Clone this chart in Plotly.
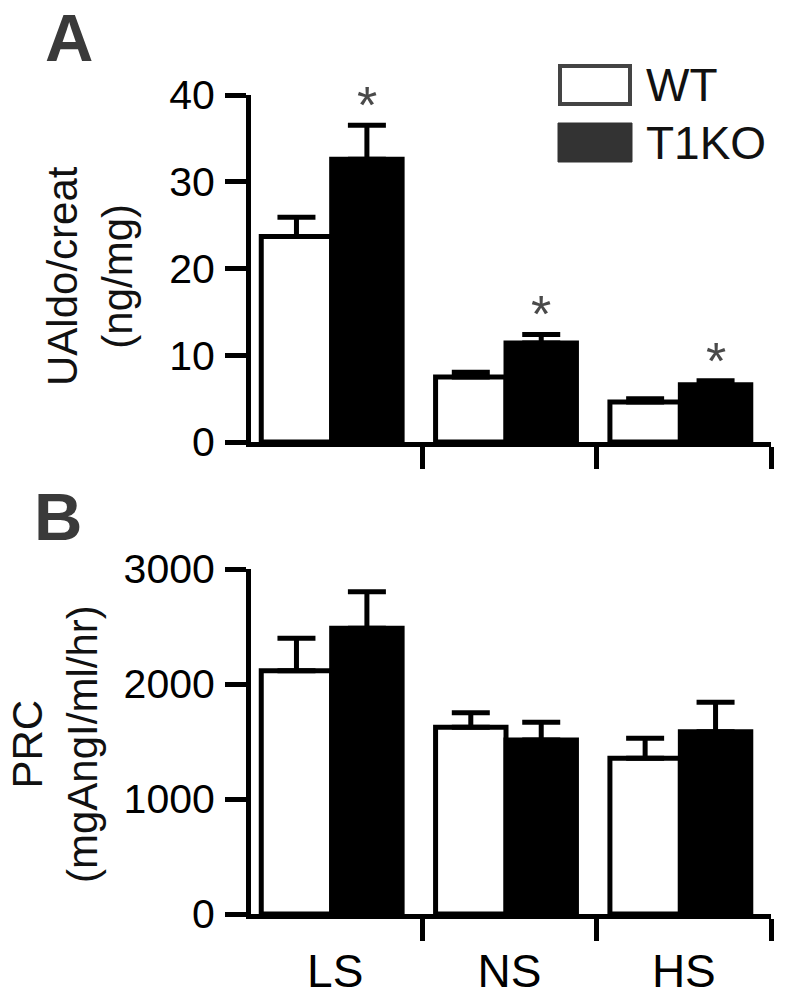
import plotly.graph_objects as go

# ---------------- data ----------------
categories = ["LS", "NS", "HS"]
groups = ["WT", "T1KO"]

aldo_wt = [23.7, 7.5, 4.6]
aldo_wt_sem = [2.2, 0.55, 0.4]
aldo_ko = [32.6, 11.4, 6.6]
aldo_ko_sem = [3.9, 1.0, 0.45]

prc_wt = [2116, 1623, 1354]
prc_wt_sem = [281, 127, 174]
prc_ko = [2484, 1513, 1585]
prc_ko_sem = [319, 154, 256]

aldo_ticks = [0, 10, 20, 30, 40]
prc_ticks = [0, 1000, 2000, 3000]
significant_a = [True, True, True]   # asterisks over T1KO bars in panel A

# ---------------- layout helpers ----------------
W, H = 800, 1008
FONT = "Liberation Sans, Arial, Helvetica, sans-serif"


def fx(p):
    return p / W


def fy(p):
    return 1 - p / H


idx = list(range(len(categories)))
BAR_W = 0.404
OFF_WT = -0.424
OFF_KO = -0.02

fig = go.Figure()


def add_pair(wt, wt_sem, ko, ko_sem, xa, ya):
    fig.add_trace(go.Bar(
        x=idx, y=wt, width=BAR_W, offset=OFF_WT, name=groups[0],
        xaxis=xa, yaxis=ya, showlegend=False,
        marker=dict(color="white", line=dict(color="black", width=5)),
        error_y=dict(type="data", symmetric=False, array=wt_sem,
                     arrayminus=[0] * len(wt), color="black",
                     thickness=5, width=19),
    ))
    fig.add_trace(go.Bar(
        x=idx, y=ko, width=BAR_W, offset=OFF_KO, name=groups[1],
        xaxis=xa, yaxis=ya, showlegend=False,
        marker=dict(color="black", line=dict(color="black", width=5)),
        error_y=dict(type="data", symmetric=False, array=ko_sem,
                     arrayminus=[0] * len(ko), color="black",
                     thickness=5, width=19),
    ))


add_pair(aldo_wt, aldo_wt_sem, aldo_ko, aldo_ko_sem, "x", "y")
add_pair(prc_wt, prc_wt_sem, prc_ko, prc_ko_sem, "x2", "y2")

# category span: 248 px (left boundary) .. 771 px, 3 categories
X_LEFT, X_RIGHT, X_AXIS = 248, 771, 251
unit = (X_RIGHT - X_LEFT) / 3
xdom = [fx(X_AXIS), fx(X_RIGHT)]
xrange_ = [-0.5 + (X_AXIS - X_LEFT) / unit, 2.5]
dom_a = [fy(442), fy(95)]
dom_b = [fy(914), fy(569)]

axis_common = dict(showgrid=False, zeroline=False, showline=True,
                   linecolor="black", linewidth=5, automargin=False)

xaxis_base = dict(
    axis_common, domain=xdom, range=xrange_, tickmode="array",
    tickvals=idx, ticktext=categories, ticks="",
    minor=dict(tickmode="array", tickvals=[0.5, 1.5, 2.5], ticks="outside",
               ticklen=22, tickwidth=5, tickcolor="black"),
    tickfont=dict(family=FONT, size=46, color="black"),
)

yaxis_base = dict(
    axis_common, ticks="outside", ticklen=21, tickwidth=5,
    tickcolor="black", tickmode="array",
    tickfont=dict(family=FONT, size=41, color="black"),
    ticklabelstandoff=2,
)

fig.update_layout(
    width=W, height=H,
    margin=dict(l=0, r=0, t=0, b=0, pad=0, autoexpand=False),
    paper_bgcolor="white", plot_bgcolor="white",
    barmode="overlay",
    showlegend=False,
    xaxis=dict(xaxis_base, anchor="y", showticklabels=False),
    yaxis=dict(yaxis_base, domain=dom_a, range=[0, 40], anchor="x",
               tickvals=aldo_ticks),
    xaxis2=dict(xaxis_base, anchor="y2", showticklabels=True,
                ticklabelstandoff=13),
    yaxis2=dict(yaxis_base, domain=dom_b, range=[0, 3000], anchor="x2",
                tickvals=prc_ticks),
)

annotations = []

# asterisks above T1KO bars (panel A)
for i, (m, s, sig) in enumerate(zip(aldo_ko, aldo_ko_sem, significant_a)):
    if sig:
        annotations.append(dict(
            x=i + OFF_KO + BAR_W / 2, y=m + s, xref="x", yref="y",
            text="*", showarrow=False, yanchor="middle", yshift=20,
            font=dict(family=FONT, size=52, color="#4a4a4a"),
        ))

# axis titles
annotations.append(dict(
    x=fx(90), y=fy(276), xref="paper", yref="paper",
    text="UAldo/creat<br>(ng/mg)", textangle=-90, showarrow=False,
    xanchor="center", yanchor="middle",
    font=dict(family=FONT, size=42, color="#111111"),
))
annotations.append(dict(
    x=fx(55), y=fy(744), xref="paper", yref="paper",
    text="PRC<br>(mgAngI/ml/hr)", textangle=-90, showarrow=False,
    xanchor="center", yanchor="middle",
    font=dict(family=FONT, size=42, color="#111111"),
))

# panel letters
annotations.append(dict(
    x=fx(43), y=fy(38), xref="paper", yref="paper", text="<b>A</b>",
    showarrow=False, xanchor="left", yanchor="middle",
    font=dict(family=FONT, size=67, color="#3a3a3a"),
))
annotations.append(dict(
    x=fx(32), y=fy(516), xref="paper", yref="paper", text="<b>B</b>",
    showarrow=False, xanchor="left", yanchor="middle",
    font=dict(family=FONT, size=67, color="#3a3a3a"),
))

# legend text
annotations.append(dict(
    x=fx(644), y=fy(85), xref="paper", yref="paper", text=groups[0],
    showarrow=False, xanchor="left", yanchor="middle",
    font=dict(family=FONT, size=46, color="#111111"),
))
annotations.append(dict(
    x=fx(644), y=fy(143), xref="paper", yref="paper", text=groups[1],
    showarrow=False, xanchor="left", yanchor="middle",
    font=dict(family=FONT, size=46, color="#111111"),
))

shapes = [
    dict(type="rect", xref="paper", yref="paper",
         x0=fx(560), x1=fx(630), y0=fy(104), y1=fy(66),
         line=dict(color="#444444", width=4), fillcolor="white"),
    dict(type="rect", xref="paper", yref="paper",
         x0=fx(558), x1=fx(632), y0=fy(162), y1=fy(123),
         line=dict(color="#333333", width=1), fillcolor="#333333"),
]

fig.update_layout(annotations=annotations, shapes=shapes)

# remove the page's default 8px body margin so the figure fills the window
fig.write_html(
    "out.html",
    config={"displayModeBar": False},
    post_script="document.body.style.margin='0';"
                "document.documentElement.style.overflow='hidden';",
)
